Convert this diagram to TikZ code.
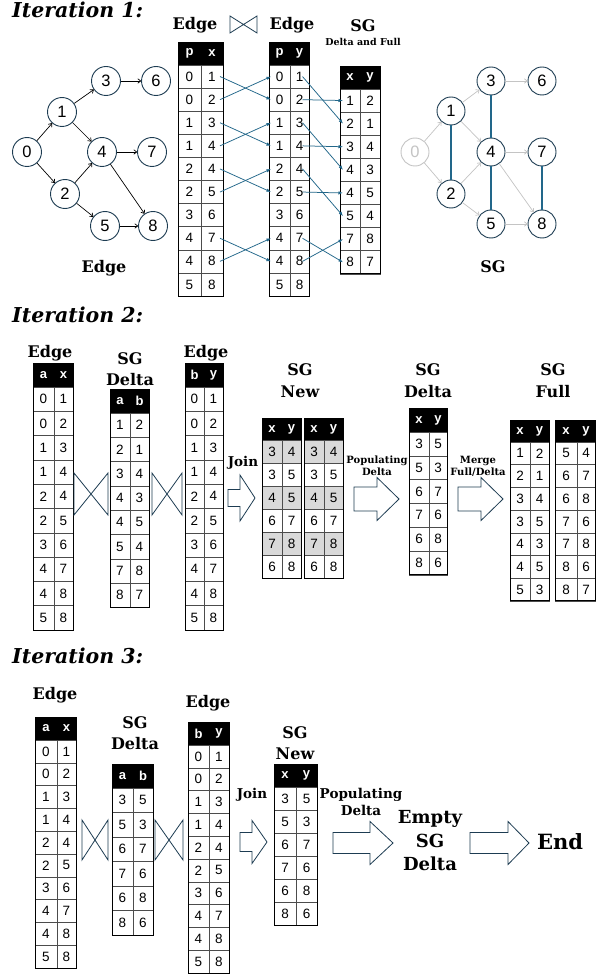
\documentclass[tikz,border=0pt]{standalone}
\usepackage{fontspec}
\setmainfont{DejaVu Serif}
\newfontfamily\cellfont{Liberation Sans}
\usetikzlibrary{arrows.meta}

\definecolor{navy}{HTML}{1D3C52}
\definecolor{link}{HTML}{22678A}
\definecolor{faint}{HTML}{C4C4C4}
\definecolor{shade}{HTML}{D9D9D9}
\colorlet{pl}{white}
\colorlet{sh}{shade}

\tikzset{
  cell/.style={draw=black!70, line width=0.5pt, inner sep=0pt, outer sep=0pt,
    font=\cellfont\fontsize{13.5}{13.5}\selectfont},
  headcell/.style={fill=black, draw=black, line width=0.5pt, inner sep=0pt, outer sep=0pt,
    text=white, font=\cellfont\bfseries\fontsize{13}{13}\selectfont},
  tableframe/.style={draw=black, line width=0.9pt},
  heading/.style={font=\bfseries\itshape\fontsize{20.5}{20.5}\selectfont, anchor=base west, inner sep=0pt},
  lbl/.style={font=\bfseries\fontsize{16}{16}\selectfont, anchor=base, inner sep=0pt},
  smalllbl/.style={font=\bfseries\fontsize{10}{10}\selectfont, anchor=base, inner sep=0pt},
  joinlbl/.style={font=\bfseries\fontsize{13.5}{13.5}\selectfont, anchor=base, inner sep=0pt},
  biglbl/.style={font=\bfseries\fontsize{18}{18}\selectfont, anchor=base, inner sep=0pt},
  hugelbl/.style={font=\bfseries\fontsize{21}{21}\selectfont, anchor=base, inner sep=0pt},
  vtx/.style={circle, draw=navy, line width=0.9pt, minimum size=29pt, inner sep=0pt,
    fill=white, font=\cellfont\fontsize{16.5}{16.5}\selectfont},
  ghostvtx/.style={vtx, draw=faint, text=faint},
  garrow/.style={-{To[length=3.5pt,width=5pt]}, line width=0.7pt, black},
  ghostarrow/.style={garrow, faint},
  sgedge/.style={line width=1.1pt, link},
  maparrow/.style={-{Latex[length=4.5pt,width=3.5pt]}, line width=0.75pt, link},
  bowtie/.style={navy, line width=0.8pt, line join=miter},
  blockarrow/.style={navy, line width=0.8pt, fill=white, line join=miter},
}

% relation table: name, left, top, width a, width b, header height, row height, header a/b, rows a/b/fill
\newcommand\reltable[9]{%
  \foreach \ha/\hb in {#8}{%
    \node[headcell, minimum width=#4, minimum height=#6, anchor=north west] (#1-h-a) at (#2,#3) {\ha};
    \node[headcell, minimum width=#5, minimum height=#6, anchor=north west] (#1-h-b) at ({#2+#4},#3) {\hb};
  }
  \foreach \ca/\cb/\cf [count=\i from 0] in #9{%
    \node[cell, fill=\cf, minimum width=#4, minimum height=#7, anchor=north west] (#1-\i-a) at (#2,{#3+#6+\i*#7}) {\ca};
    \node[cell, fill=\cf, minimum width=#5, minimum height=#7, anchor=north west] (#1-\i-b) at ({#2+#4},{#3+#6+\i*#7}) {\cb};
    \xdef\lastrow{\i}
  }
  \draw[tableframe] (#1-h-a.north west) rectangle (#1-\lastrow-b.south east);
}

% natural join symbol: left x, top y, right x, bottom y
\newcommand\joinmark[4]{%
  \draw[bowtie] (#1,#2) -- (#1,#4) -- (#3,#2) -- (#3,#4) -- cycle;
}

% hollow block arrow: shaft start, head base, tip, centre y, shaft half height, head half height
\newcommand\blockarrow[6]{%
  \draw[blockarrow] (#1,{#4-#5}) -- (#2,{#4-#5}) -- (#2,{#4-#6}) -- (#3,#4)
    -- (#2,{#4+#6}) -- (#2,{#4+#5}) -- (#1,{#4+#5}) -- cycle;
}

\def\edgerows{0/1/pl,0/2/pl,1/3/pl,1/4/pl,2/4/pl,2/5/pl,3/6/pl,4/7/pl,4/8/pl,5/8/pl}
\def\firstrows{1/2/pl,2/1/pl,3/4/pl,4/3/pl,4/5/pl,5/4/pl,7/8/pl,8/7/pl}
\def\newrows{3/4/sh,3/5/pl,4/5/sh,6/7/pl,7/8/sh,6/8/pl}
\def\deltarows{3/5/pl,5/3/pl,6/7/pl,7/6/pl,6/8/pl,8/6/pl}
\def\fullrowsA{1/2/pl,2/1/pl,3/4/pl,3/5/pl,4/3/pl,4/5/pl,5/3/pl}
\def\fullrowsB{5/4/pl,6/7/pl,6/8/pl,7/6/pl,7/8/pl,8/6/pl,8/7/pl}

\begin{document}
\begin{tikzpicture}[x=1pt,y=-1pt]
\useasboundingbox[fill=white] (0,0) rectangle (596,976);

% ---------------- Iteration 1 ----------------
\node[heading] (it1) at (12,17.5) {Iteration 1:};

% input graph
\node[vtx] (a0) at (27,152) {0};
\node[vtx] (a1) at (62,112) {1};
\node[vtx] (a2) at (65,194) {2};
\node[vtx] (a3) at (106,81) {3};
\node[vtx] (a4) at (102,152) {4};
\node[vtx] (a5) at (105,226) {5};
\node[vtx] (a6) at (156,81) {6};
\node[vtx] (a7) at (152,152) {7};
\node[vtx] (a8) at (153,226) {8};
\foreach \s/\t in {0/1,0/2,1/3,1/4,2/4,2/5,3/6,4/7,4/8,5/8}
  \draw[garrow] (a\s) -- (a\t);
\node[lbl] (alab) at (104,272) {Edge};

% self join of the edge relation
\node[lbl] (e1lab) at (195,30) {Edge};
\joinmark{230}{16}{257}{33}
\node[lbl] (e2lab) at (292,30) {Edge};
\node[lbl] (s1lab) at (363,32) {SG};
\node[smalllbl, font=\bfseries\fontsize{9.5}{9.5}\selectfont] (s1sub) at (363,45.5) {Delta and Full};

\reltable{E1}{178}{42}{23}{22}{23}{23.1}{p/x}{\edgerows}
\reltable{E2}{269}{42}{21}{19}{23}{23.1}{p/y}{\edgerows}
\reltable{S1}{340}{66}{20}{20}{23}{23.1}{x/y}{\firstrows}

\foreach \s/\t in {0/1,1/0,2/3,3/2,4/5,5/4,7/8,8/7}
  \draw[maparrow] ([xshift=8pt]E1-\s-b.center) -- ([xshift=2pt]E2-\t-a.west);
\foreach \s/\t in {0/1,1/0,2/3,3/2,4/5,5/4,7/7,8/6}
  \draw[maparrow] ([xshift=3pt]E2-\s-b.center) -- ([xshift=3pt]S1-\t-a.west);

% same graph generation
\foreach \n/\px/\py in {1/451/111,2/451/194,3/491/81,4/491/152,5/491/224,6/542/81,7/542/152,8/542/224}
  \node[vtx, minimum size=28pt] (b\n) at (\px,\py) {\n};
\node[ghostvtx, minimum size=28pt] (b0) at (415,152) {0};
\foreach \s/\t in {0/1,0/2,1/3,1/4,2/4,2/5,3/6,4/7,4/8,5/8}
  \draw[ghostarrow] (b\s) -- (b\t);
\foreach \s/\t in {1/2,3/4,4/5,7/8}
  \draw[sgedge] (b\s) -- (b\t);
\node[lbl] (blab) at (493,272) {SG};

% ---------------- Iteration 2 ----------------
\node[heading] (it2) at (12,322) {Iteration 2:};

\node[lbl] (f1lab) at (50,357) {Edge};
\reltable{F1}{33}{363}{21}{19}{24}{24.3}{a/x}{\edgerows}
\joinmark{74}{473}{108}{515}
\node[lbl] (d1lab) at (130,364) {SG};
\node[lbl] (d1sub) at (130,385) {Delta};
\reltable{D1}{110}{389}{20}{19}{24}{24.3}{a/b}{\firstrows}
\joinmark{152}{473}{182}{515}
\node[lbl] (f2lab) at (206,357) {Edge};
\reltable{F2}{185}{363}{19}{19}{24}{24.3}{b/y}{\edgerows}

\node[joinlbl] (j2lab) at (243,466) {Join};
\blockarrow{228}{240}{255}{498}{8.5}{23}

\node[lbl] (n2lab) at (300,375) {SG};
\node[lbl] (n2sub) at (300,397) {New};
\reltable{N2a}{262}{418}{20}{19}{22}{23}{x/y}{\newrows}
\reltable{N2b}{304}{418}{20}{19}{22}{23}{x/y}{\newrows}

\node[smalllbl] (p2lab) at (377,463) {Populating};
\node[smalllbl] (p2sub) at (377,475) {Delta};
\blockarrow{354}{377}{399}{499}{12}{21.5}

\node[lbl] (d2lab) at (428,375) {SG};
\node[lbl] (d2sub) at (428,397) {Delta};
\reltable{D2}{409}{408}{20}{18}{24}{23.8}{x/y}{\deltarows}

\node[smalllbl] (m2lab) at (478,463) {Merge};
\node[smalllbl] (m2sub) at (478,475) {Full/Delta};
\blockarrow{458}{481}{503}{499}{12}{21.5}

\node[lbl] (u2lab) at (553,375) {SG};
\node[lbl] (u2sub) at (553,397) {Full};
\reltable{U2a}{510}{420}{20}{19}{22}{22.7}{x/y}{\fullrowsA}
\reltable{U2b}{555}{420}{22}{18}{22}{22.7}{x/y}{\fullrowsB}

% ---------------- Iteration 3 ----------------
\node[heading] (it3) at (12,663) {Iteration 3:};

\node[lbl] (g1lab) at (55,699) {Edge};
\reltable{G1}{35}{717}{22}{19}{23}{22.8}{a/x}{\edgerows}
\joinmark{82}{820}{108}{860}
\node[lbl] (d3lab) at (135,728) {SG};
\node[lbl] (d3sub) at (135,749) {Delta};
\reltable{D3}{112}{764}{21}{20}{24}{24.5}{a/b}{\deltarows}
\joinmark{155}{820}{183}{860}
\node[lbl] (g2lab) at (208,707) {Edge};
\reltable{G2}{188}{722}{21}{20}{23}{22.8}{b/y}{\edgerows}

\node[joinlbl] (j3lab) at (252,798) {Join};
\blockarrow{240}{252}{267}{842}{9.5}{21.5}

\node[lbl] (n3lab) at (295,738) {SG};
\node[lbl] (n3sub) at (295,759) {New};
\reltable{N3}{274}{764}{22}{21}{23}{23}{x/y}{\deltarows}

\node[joinlbl] (p3lab) at (361,798) {Populating};
\node[joinlbl] (p3sub) at (361,815) {Delta};
\blockarrow{333}{370}{393}{843}{10.5}{21.5}

\node[biglbl] (e3lab) at (430,823) {Empty};
\node[biglbl] (e3mid) at (430,847) {SG};
\node[biglbl] (e3sub) at (430,870) {Delta};
\blockarrow{470}{508}{529}{843}{10.5}{21.5}
\node[hugelbl] (endlab) at (560,849) {End};
\end{tikzpicture}
\end{document}
